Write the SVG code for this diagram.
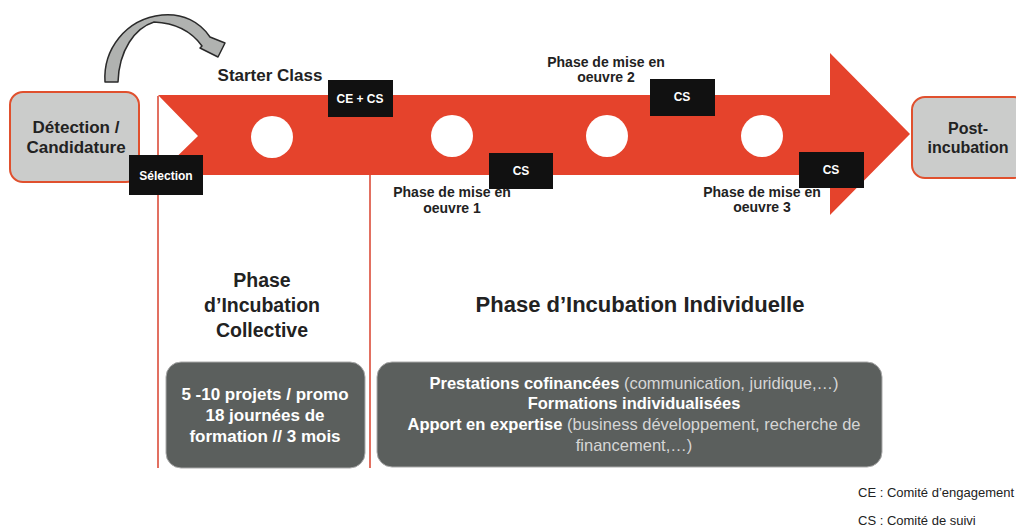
<svg xmlns="http://www.w3.org/2000/svg" width="1016" height="530" viewBox="0 0 1016 530">
<style>
.t{font-family:"Liberation Sans",Arial,sans-serif;font-weight:bold;fill:#222;text-anchor:middle}
.w{font-family:"Liberation Sans",Arial,sans-serif;font-weight:bold;fill:#fff;text-anchor:middle}
.n{font-weight:normal;fill:#d6d6d6}
.blk{fill:#111}
.vl{stroke:#d8402c;stroke-width:1.5}
.gbox{fill:#cbcccb;stroke:#e0502e;stroke-width:2}
.dbox{fill:#5b5f5d;stroke:#aaa;stroke-width:1}
.lg{font-family:"Liberation Sans",Arial,sans-serif;font-size:13px;fill:#222}
</style>
<rect width="1016" height="530" fill="#fff"/>
<g id="connectors">
<line class="vl" x1="158" y1="96" x2="158" y2="468"/>
<line class="vl" x1="370" y1="175" x2="370" y2="468"/>
<path d="M105,82 C103,50 125,19 162,15 C183,13 200,22 210,37 L225,43 L218,57 L200,48 L202,46 C192,32 176,23 154,22 C135,28 119,50 118,82 Z" fill="#b0b2b0" stroke="#2a2a2a" stroke-width="1.5" stroke-linejoin="round"/>
</g>
<g id="main-arrow">
<path d="M158,95 L830,95 L830,53 L910,134 L830,215 L830,175 L158,175 L198,136 Z" fill="#e5432c"/>
<circle cx="272" cy="137" r="21" fill="#fff"/>
<circle cx="452" cy="136" r="21" fill="#fff"/>
<circle cx="607" cy="136" r="21" fill="#fff"/>
<circle cx="762" cy="136" r="21" fill="#fff"/>
</g>
<g id="detection">
<rect class="gbox" x="10" y="92" width="129" height="90" rx="13"/>
<text class="t" font-size="17" x="76" y="133">Détection /</text>
<text class="t" font-size="17" x="76" y="153">Candidature</text>
</g>
<g id="post-incubation">
<rect class="gbox" x="912" y="97" width="115" height="81" rx="13"/>
<text class="t" font-size="16" x="968" y="134">Post-</text>
<text class="t" font-size="16" x="968" y="153">incubation</text>
</g>
<g id="selection">
<rect class="blk" x="129" y="155" width="74" height="40"/>
<text class="w" font-size="12" x="166" y="180">Sélection</text>
</g>
<g id="starter-class">
<text class="t" font-size="17" x="270" y="81">Starter Class</text>
</g>
<g id="ce-cs">
<rect class="blk" x="328" y="80" width="65" height="37"/>
<text class="w" font-size="12" x="360" y="103">CE + CS</text>
</g>
<g id="cs1">
<rect class="blk" x="489" y="153" width="64" height="36"/>
<text class="w" font-size="12" x="521" y="175">CS</text>
</g>
<g id="cs2">
<rect class="blk" x="650" y="79" width="65" height="37"/>
<text class="w" font-size="12" x="682" y="101">CS</text>
</g>
<g id="cs3">
<rect class="blk" x="799" y="152" width="65" height="36"/>
<text class="w" font-size="12" x="831" y="174">CS</text>
</g>
<g id="phase1">
<text class="t" font-size="14" x="452" y="197">Phase de mise en</text>
<text class="t" font-size="14" x="452" y="213">oeuvre 1</text>
</g>
<g id="phase2">
<text class="t" font-size="14" x="606" y="67">Phase de mise en</text>
<text class="t" font-size="14" x="606" y="82">oeuvre 2</text>
</g>
<g id="phase3">
<text class="t" font-size="14" x="762" y="197">Phase de mise en</text>
<text class="t" font-size="14" x="762" y="212">oeuvre 3</text>
</g>
<g id="collective-title">
<text class="t" font-size="19.5" x="262" y="287">Phase</text>
<text class="t" font-size="19.5" x="262" y="312">d’Incubation</text>
<text class="t" font-size="19.5" x="262" y="337">Collective</text>
</g>
<g id="individuelle-title">
<text class="t" font-size="22" x="640" y="312">Phase d’Incubation Individuelle</text>
</g>
<g id="collective-box">
<rect class="dbox" x="166" y="362" width="199" height="106" rx="15"/>
<text class="w" font-size="17" x="265" y="400">5 -10 projets / promo</text>
<text class="w" font-size="17" x="265" y="421">18 journées de</text>
<text class="w" font-size="17" x="265" y="442">formation // 3 mois</text>
</g>
<g id="individuelle-box">
<rect class="dbox" x="377" y="362" width="505" height="105" rx="15"/>
<text class="w" font-size="16.5" x="634" y="389">Prestations cofinancées <tspan class="n">(communication, juridique,…)</tspan></text>
<text class="w" font-size="16.5" x="634" y="409">Formations individualisées</text>
<text class="w" font-size="16.5" x="634" y="430">Apport en expertise <tspan class="n">(business développement, recherche de</tspan></text>
<text class="w n" font-size="16.5" x="634" y="451">financement,…)</text>
</g>
<g id="legend">
<text class="lg" x="858" y="497">CE : Comité d’engagement</text>
<text class="lg" x="858" y="525">CS : Comité de suivi</text>
</g>
</svg>
